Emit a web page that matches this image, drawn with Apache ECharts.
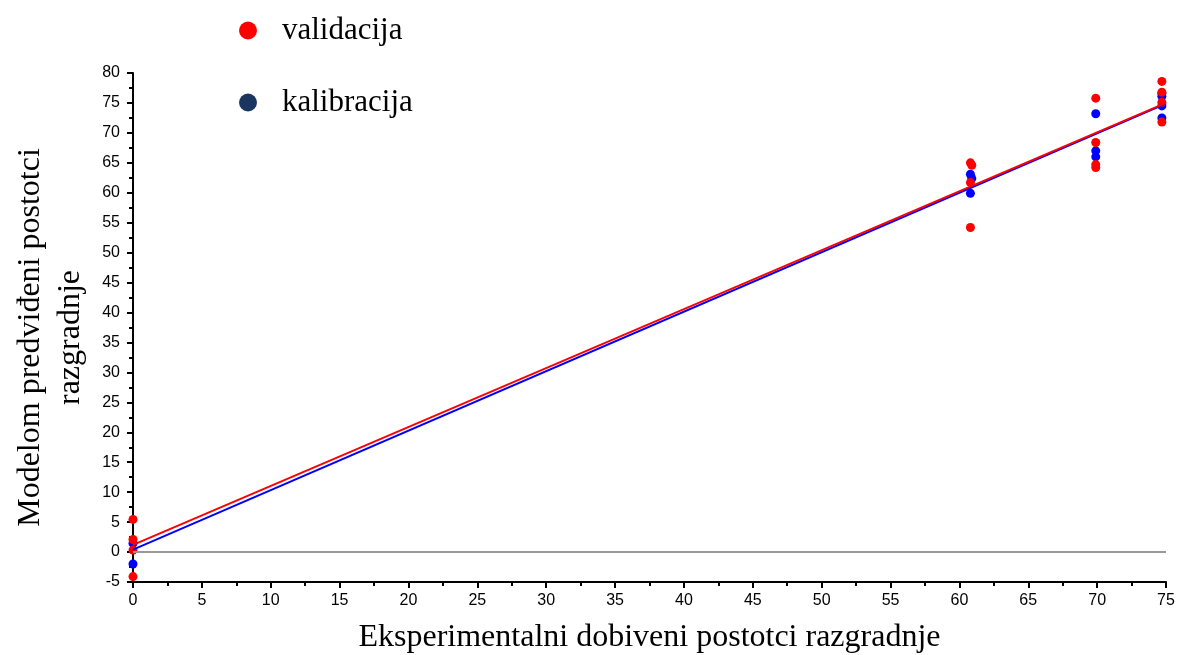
<!DOCTYPE html>
<html>
<head>
<meta charset="utf-8">
<script src="https://cdn.jsdelivr.net/npm/echarts@6/dist/echarts.min.js"></script>
<style>
  html, body { margin: 0; padding: 0; background: #fff; }
  #chart { width: 1178px; height: 655px; }
</style>
</head>
<body>
<div id="chart"></div>
<script>
// validacija (red) points [experimental, predicted]
const validacija = [
    [0, 5.45], [0, 2.1], [0, 0.33], [0, -4.1],
    [60.8, 65.0], [60.9, 64.6], [60.8, 61.7], [60.8, 54.2],
    [69.9, 75.8], [69.9, 68.4], [69.9, 64.7], [69.9, 64.2],
    [74.7, 78.6], [74.7, 76.8], [74.7, 75.1], [74.7, 71.8]
];
// kalibracija (blue) points
const kalibracija = [
    [0, 1.45], [0, -2.0],
    [60.8, 63.1], [60.9, 62.4], [60.8, 59.9],
    [69.9, 73.2], [69.9, 67.0], [69.9, 66.0],
    [74.7, 76.6], [74.7, 76.1], [74.7, 74.5], [74.7, 72.5]
];
// fitted lines (start / end)
const fitValidacija = [[0, 1.2], [75, 75.0]];
const fitKalibracija = [[0, 0.4], [75, 74.9]];

const xTitle = 'Eksperimentalni dobiveni postotci razgradnje';
const yTitle = 'Modelom predviđeni postotci\nrazgradnje';

const chartElement = document.getElementById('chart');
let chart = echarts.init(chartElement);

let option = {
    animation: false,
    grid: { left: 133, right: 12, top: 73, bottom: 73, outerBoundsMode: 'none', containLabel: false },
    legend: {
        orient: 'vertical',
        left: 234,
        top: 10,
        itemGap: 41,
        itemWidth: 18,
        itemHeight: 18,
        icon: 'circle',
        textStyle: { fontFamily: 'Liberation Serif', fontSize: 31, color: '#000', padding: [0, 0, 0, 20] },
        data: [
            { name: 'validacija', itemStyle: { color: '#ff0000' } },
            { name: 'kalibracija', itemStyle: { color: '#1b3561' } }
        ]
    },
    xAxis: {
        type: 'value',
        min: 0,
        max: 75,
        interval: 5,
        name: xTitle,
        nameLocation: 'middle',
        nameGap: 40,
        nameTextStyle: { fontFamily: 'Liberation Serif', fontSize: 32, color: '#000' },
        axisLine: { onZero: false, lineStyle: { color: '#000', width: 2 } },
        axisTick: { length: 6, lineStyle: { color: '#000', width: 2 } },
        minorTick: { show: true, splitNumber: 2, length: 4, lineStyle: { color: '#000', width: 2 } },
        axisLabel: { fontFamily: 'Liberation Sans', fontSize: 16, color: '#000', margin: 11 },
        splitLine: { show: false }
    },
    yAxis: {
        type: 'value',
        min: -5,
        max: 80,
        interval: 5,
        name: yTitle,
        nameLocation: 'middle',
        nameGap: 42,
        nameTextStyle: { fontFamily: 'Liberation Serif', fontSize: 32, color: '#000', lineHeight: 40, padding: [0, 20, 0, 0] },
        axisLine: { lineStyle: { color: '#000', width: 2 } },
        axisTick: { length: 6, lineStyle: { color: '#000', width: 2 } },
        minorTick: { show: true, splitNumber: 2, length: 4, lineStyle: { color: '#000', width: 2 } },
        axisLabel: { fontFamily: 'Liberation Sans', fontSize: 16, color: '#000', margin: 13 },
        splitLine: { show: false }
    },
    series: [
        {
            name: 'zero',
            type: 'line',
            data: [],
            silent: true,
            markLine: {
                symbol: 'none',
                silent: true,
                label: { show: false },
                lineStyle: { color: '#999', width: 2, type: 'solid' },
                data: [{ yAxis: 0 }]
            }
        },
        {
            name: 'fitK',
            type: 'line',
            data: fitKalibracija,
            symbol: 'none',
            lineStyle: { color: '#0000ff', width: 2 }
        },
        {
            name: 'fitV',
            type: 'line',
            data: fitValidacija,
            symbol: 'none',
            lineStyle: { color: '#ff0000', width: 2 }
        },
        {
            name: 'kalibracija',
            type: 'scatter',
            data: kalibracija,
            symbolSize: 9,
            itemStyle: { color: '#0000ff', opacity: 1 }
        },
        {
            name: 'validacija',
            type: 'scatter',
            data: validacija,
            symbolSize: 9,
            itemStyle: { color: '#ff0000', opacity: 1 }
        }
    ]
};

chart.setOption(option);
</script>
</body>
</html>
